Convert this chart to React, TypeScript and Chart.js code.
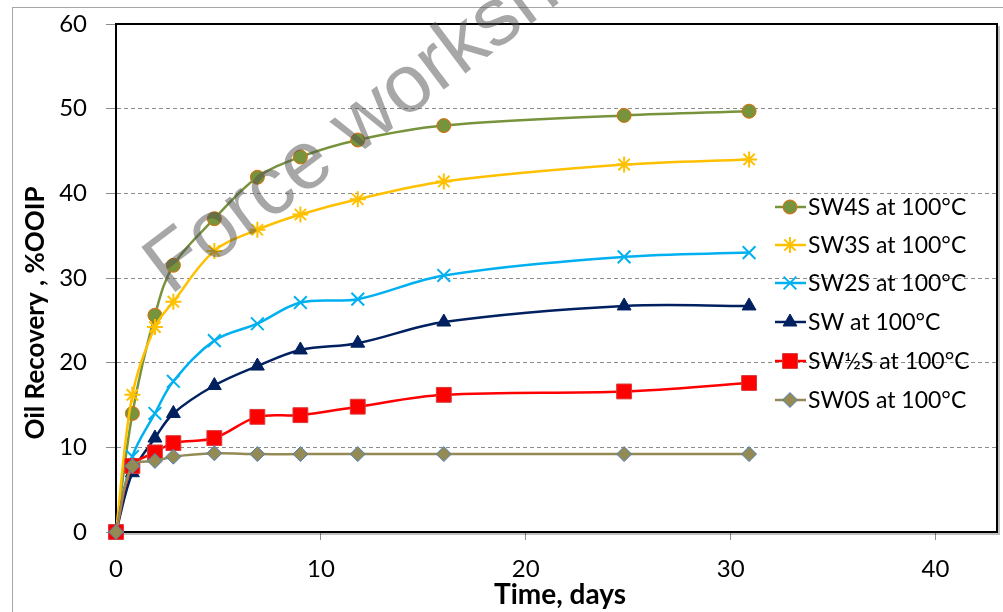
import React, { useEffect, useRef } from 'react';
import { Chart, registerables, PointElement } from 'chart.js';

Chart.register(...registerables);

// ---- data ----
const days = [0, 0.8, 1.9, 2.8, 4.8, 6.9, 9.0, 11.8, 16.0, 24.8, 30.9];
const sw4s = [0, 14.0, 25.6, 31.5, 37.0, 41.9, 44.3, 46.3, 48.0, 49.2, 49.7];
const sw3s = [0, 16.2, 24.2, 27.2, 33.2, 35.7, 37.5, 39.3, 41.4, 43.4, 44.0];
const sw2s = [0, 8.9, 14.0, 17.8, 22.6, 24.6, 27.1, 27.5, 30.3, 32.5, 33.0];
const sw = [0, 7.0, 11.1, 14.0, 17.3, 19.6, 21.5, 22.3, 24.8, 26.7, 26.7];
const swHalfS = [0, 7.8, 9.4, 10.5, 11.1, 13.6, 13.8, 14.8, 16.2, 16.6, 17.6];
const sw0s = [0, 7.8, 8.4, 8.9, 9.3, 9.2, 9.2, 9.2, 9.2, 9.2, 9.2];

const seriesLabels = [
  'SW4S at 100°C',
  'SW3S at 100°C',
  'SW2S at 100°C',
  'SW at 100°C',
  'SW½S at 100°C',
  'SW0S at 100°C',
];
const seriesValues = [sw4s, sw3s, sw2s, sw, swHalfS, sw0s];

const xTicks = [0, 10, 20, 30, 40];
const yTicks = [0, 10, 20, 30, 40, 50, 60];
const xTitle = 'Time, days';
const yTitle = 'Oil Recovery , %OOIP';
const watermark = 'Force workshop';

// ---- styles ----
const styles = [
  { line: '#77933C', fill: '#77933C', border: '#E46C0A', point: 'circle', radius: 7, bw: 1 },
  { line: '#FFC000', fill: '#FFC000', border: '#FFC000', point: 'star', radius: 8, bw: 2 },
  { line: '#00B0F0', fill: '#00B0F0', border: '#00B0F0', point: 'crossRot', radius: 9, bw: 2 },
  { line: '#002060', fill: '#002060', border: '#002060', point: 'triangle', radius: 8, bw: 1 },
  { line: '#FF0000', fill: '#FF0000', border: '#D83A3A', point: 'rect', radius: 10.5, bw: 1 },
  { line: '#948A54', fill: '#948A54', border: '#4F81BD', point: 'rectRot', radius: 7.5, bw: 1 },
];

const FONT = 'Lato, "Open Sans", sans-serif';

const decorPlugin = {
  id: 'decor',
  beforeDraw(chart: any) {
    const ctx = chart.ctx;
    ctx.save();
    ctx.fillStyle = '#ffffff';
    ctx.fillRect(0, 0, chart.width, chart.height);
    ctx.strokeStyle = '#A6A6A6';
    ctx.lineWidth = 1;
    ctx.strokeRect(12.5, 7.5, chart.width + 50, chart.height + 50);
    ctx.restore();
  },
  beforeDatasetsDraw(chart: any) {
    const { ctx, chartArea } = chart;
    ctx.save();
    ctx.strokeStyle = 'rgba(0,0,0,0.25)';
    ctx.lineWidth = 2;
    ctx.beginPath();
    ctx.moveTo(chartArea.right + 2, chartArea.top + 2);
    ctx.lineTo(chartArea.right + 2, chartArea.bottom + 2);
    ctx.lineTo(chartArea.left + 2, chartArea.bottom + 2);
    ctx.stroke();
    ctx.strokeStyle = '#000000';
    ctx.lineWidth = 2;
    ctx.beginPath();
    ctx.moveTo(chartArea.left, chartArea.top);
    ctx.lineTo(chartArea.right, chartArea.top);
    ctx.lineTo(chartArea.right, chartArea.bottom);
    ctx.stroke();
    ctx.restore();
  },
  afterDraw(chart: any) {
    const { ctx } = chart;
    // legend
    ctx.save();
    const rows = [207, 245, 283, 322, 361, 400];
    chart.data.datasets.forEach((ds: any, i: number) => {
      const st = styles[i];
      const y = rows[i];
      ctx.strokeStyle = st.line;
      ctx.lineWidth = 2.5;
      ctx.beginPath();
      ctx.moveTo(775, y);
      ctx.lineTo(806, y);
      ctx.stroke();
      const pt: any = new PointElement({});
      pt.x = 790;
      pt.y = y;
      pt.options = {
        pointStyle: st.point,
        radius: st.radius,
        rotation: 0,
        borderWidth: st.bw,
        backgroundColor: st.fill,
        borderColor: st.border,
      };
      pt.draw(ctx);
      ctx.fillStyle = '#000000';
      ctx.font = `23px ${FONT}`;
      ctx.textAlign = 'left';
      ctx.textBaseline = 'middle';
      ctx.fillText(ds.label, 808, y + 1);
    });
    ctx.restore();

    // axis titles
    ctx.save();
    ctx.fillStyle = '#000000';
    ctx.font = `bold 28px ${FONT}`;
    ctx.textAlign = 'center';
    ctx.textBaseline = 'alphabetic';
    ctx.fillText(xTitle, 560, 604);
    ctx.translate(36, 313);
    ctx.rotate(-Math.PI / 2);
    ctx.font = `bold 26px ${FONT}`;
    ctx.textBaseline = 'middle';
    ctx.fillText(yTitle, 0, 0);
    ctx.restore();

    // watermark
    ctx.save();
    ctx.translate(170, 296);
    ctx.rotate((-37 * Math.PI) / 180);
    ctx.font = '82px "Liberation Sans", Arial, sans-serif';
    ctx.fillStyle = 'rgba(80,80,80,0.5)';
    ctx.textAlign = 'left';
    ctx.textBaseline = 'alphabetic';
    ctx.fillText(watermark, 0, 0);
    ctx.restore();
  },
};

export default function App() {
  const canvasRef = useRef<HTMLCanvasElement | null>(null);

  useEffect(() => {
    document.body.style.margin = '0';
    const canvas = canvasRef.current;
    if (!canvas) return;
    const datasets = seriesValues.map((vals, i) => ({
      label: seriesLabels[i],
      data: days.map((d, j) => ({ x: d, y: vals[j] })),
      borderColor: styles[i].line,
      backgroundColor: styles[i].fill,
      pointBackgroundColor: styles[i].fill,
      pointBorderColor: styles[i].border,
      pointBorderWidth: styles[i].bw,
      pointStyle: styles[i].point,
      pointRadius: styles[i].radius,
      borderWidth: 2.5,
      tension: 0.35,
      fill: false,
      clip: false,
      order: seriesValues.length - i,
    }));

    const chart = new Chart(canvas, {
      type: 'line',
      data: { datasets },
      plugins: [decorPlugin],
      options: {
        animation: false,
        responsive: false,
        devicePixelRatio: 1,
        layout: { autoPadding: false, padding: { left: 0, top: 24, right: 6, bottom: 0 } },
        plugins: {
          legend: { display: false },
          tooltip: { enabled: false },
        },
        scales: {
          x: {
            type: 'linear',
            min: 0,
            max: 43,
            afterBuildTicks: (axis: any) => {
              axis.ticks = xTicks.map((v) => ({ value: v }));
            },
            afterFit: (axis: any) => {
              axis.height = 80;
              axis.paddingLeft = 0;
              axis.paddingRight = 0;
            },
            grid: {
              drawOnChartArea: false,
              drawTicks: true,
              tickLength: 8,
              tickColor: '#8C8C8C',
              tickWidth: 1,
            },
            border: { display: true, color: '#000000', width: 2 },
            ticks: {
              color: '#000000',
              font: { family: FONT, size: 24 },
              padding: 15,
              maxRotation: 0,
            },
          },
          y: {
            type: 'linear',
            min: 0,
            max: 60,
            afterBuildTicks: (axis: any) => {
              axis.ticks = yTicks.map((v) => ({ value: v }));
            },
            afterFit: (axis: any) => {
              axis.width = 116;
              axis.paddingTop = 0;
              axis.paddingBottom = 0;
            },
            grid: {
              color: '#8C8C8C',
              lineWidth: 1,
              drawTicks: true,
              tickLength: 10,
              tickColor: '#8C8C8C',
              tickWidth: 1,
              tickBorderDash: [],
            },
            border: { display: true, color: '#000000', width: 2, dash: [4, 3] },
            ticks: {
              color: '#000000',
              font: { family: FONT, size: 24 },
              padding: 19,
            },
          },
        },
      },
    } as any);

    return () => {
      chart.destroy();
    };
  }, []);

  return (
    <div style={{ width: 1003, height: 612 }}>
      <canvas ref={canvasRef} width={1003} height={612} style={{ display: 'block' }} />
    </div>
  );
}
